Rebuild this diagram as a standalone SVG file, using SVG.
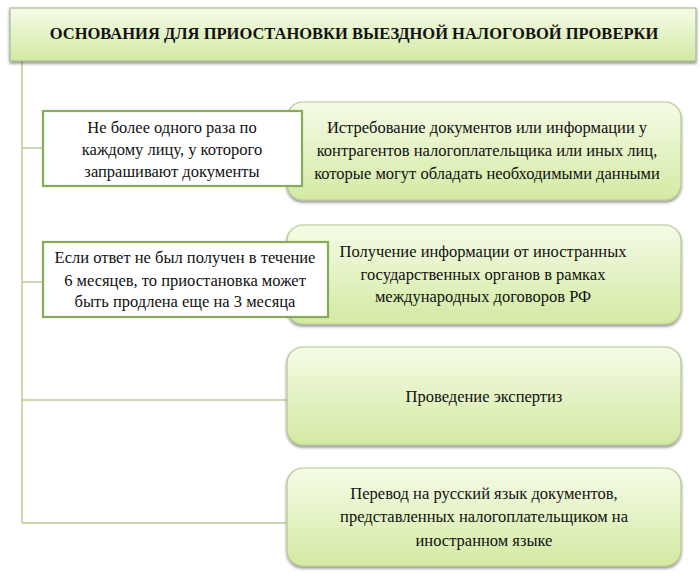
<svg xmlns="http://www.w3.org/2000/svg" width="700" height="579" viewBox="0 0 700 579">
<defs>
<linearGradient id="gTitle" x1="0" y1="0" x2="0" y2="1">
<stop offset="0" stop-color="#f6fbe9"/>
<stop offset="1" stop-color="#d2e9a2"/>
</linearGradient>
<linearGradient id="gBox" x1="0" y1="0" x2="0" y2="1">
<stop offset="0" stop-color="#f5fbe6"/>
<stop offset="1" stop-color="#d3eaa3"/>
</linearGradient>
<filter id="sh" x="-5%" y="-10%" width="110%" height="125%">
<feGaussianBlur in="SourceAlpha" stdDeviation="1.5"/>
<feOffset dx="0" dy="2" result="b"/>
<feComponentTransfer><feFuncA type="linear" slope="0.45"/></feComponentTransfer>
<feMerge><feMergeNode/><feMergeNode in="SourceGraphic"/></feMerge>
</filter>
</defs>
<style>
.t{font-family:"Liberation Serif","Times New Roman",serif;font-size:16.5px;fill:#111;text-anchor:middle}
.title{font-weight:bold;font-size:16.5px}
.rbox{fill:url(#gBox);stroke:#b3c98c;stroke-width:1.2}
.lbox{fill:#ffffff;stroke:#88ab5a;stroke-width:2.2}
.conn{stroke:#b9cc93;stroke-width:1.5;fill:none}
</style>
<rect width="700" height="579" fill="#ffffff"/>
<g id="connectors">
<path class="conn" d="M22,61 V523"/>
<path class="conn" d="M22,148 H43"/>
<path class="conn" d="M22,282 H43"/>
<path class="conn" d="M22,400 H287"/>
<path class="conn" d="M22,523 H287"/>
</g>
<g id="title">
<rect x="10" y="8" width="686" height="53" fill="url(#gTitle)" stroke="#a9b994" stroke-width="1.2" filter="url(#sh)"/>
<text class="t title" x="354" y="39">ОСНОВАНИЯ  ДЛЯ ПРИОСТАНОВКИ  ВЫЕЗДНОЙ  НАЛОГОВОЙ  ПРОВЕРКИ</text>
</g>
<g id="box1">
<rect class="rbox" x="287" y="102" width="394" height="98" rx="16" filter="url(#sh)"/>
<text class="t" x="487" y="133">Истребование документов или информации у</text>
<text class="t" x="487" y="156">контрагентов налогоплательщика или иных  лиц,</text>
<text class="t" x="487" y="179">которые могут обладать необходимыми данными</text>
</g>
<g id="box2">
<rect class="rbox" x="287" y="225" width="394" height="99" rx="16" filter="url(#sh)"/>
<text class="t" x="483" y="257">Получение информации от иностранных</text>
<text class="t" x="483" y="280">государственных органов в рамках</text>
<text class="t" x="483" y="302">международных договоров РФ</text>
</g>
<g id="box3">
<rect class="rbox" x="287" y="347" width="394" height="98" rx="16" filter="url(#sh)"/>
<text class="t" x="484" y="402">Проведение экспертиз</text>
</g>
<g id="box4">
<rect class="rbox" x="287" y="468" width="394" height="98" rx="16" filter="url(#sh)"/>
<text class="t" x="484" y="499">Перевод на русский язык документов,</text>
<text class="t" x="484" y="522">представленных налогоплательщиком на</text>
<text class="t" x="484" y="546">иностранном языке</text>
</g>
<g id="note1">
<rect class="lbox" x="43" y="111" width="259" height="75"/>
<text class="t" x="172" y="133">Не более одного раза по</text>
<text class="t" x="172" y="155">каждому лицу, у которого</text>
<text class="t" x="172" y="177">запрашивают документы</text>
</g>
<g id="note2">
<rect class="lbox" x="43" y="242" width="285" height="75"/>
<text class="t" x="185" y="263">Если ответ не был получен в течение</text>
<text class="t" x="185" y="286">6 месяцев, то приостановка может</text>
<text class="t" x="185" y="307">быть продлена еще на 3 месяца</text>
</g>
</svg>
